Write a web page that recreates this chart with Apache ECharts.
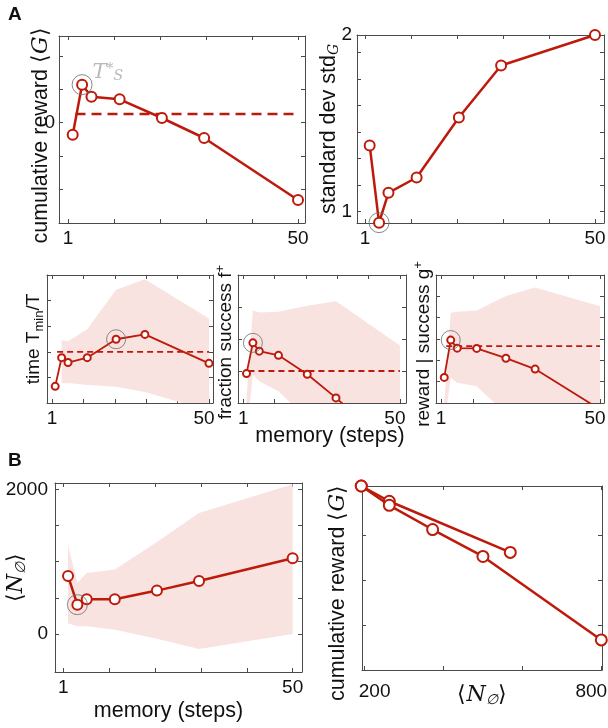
<!DOCTYPE html>
<html>
<head>
<meta charset="utf-8">
<script src="https://cdn.jsdelivr.net/npm/echarts@6/dist/echarts.min.js"></script>
<style>
  html, body { margin: 0; padding: 0; background: #fff; }
  #main { width: 608px; height: 728px; }
</style>
</head>
<body>
<div id="main"></div>
<script>
// ---- data ----
var memory = [2, 4, 6, 12, 21, 30, 50];
var memTicks = [1, 10.8, 20.6, 30.4, 40.2, 50];
var memLabels = [1, 50];

// A, top left: cumulative reward <G>
var rewardMean = [-0.36, 1.14, 0.78, 0.70, 0.14, -0.46, -2.32];
var rewardBase = 0.26;
var rewardTicks = [-2, -1, 0, 1, 2];
var rewardLabels = [0];

// A, top right: standard deviation of G
var stdG = [1.374, 0.936, 1.105, 1.192, 1.532, 1.827, 2.0];
var stdTicks = [1, 1.15, 1.3, 1.45, 1.6, 1.75, 1.9, 2];
var stdLabels = [1, 2];

// A, bottom: time, fraction success, reward | success
var timeMean = [0.65, 1.77, 1.58, 1.77, 2.49, 2.68, 1.55];
var timeLo = [null, 0.77, 0.78, 0.70, 0.63, 0.43, -0.3];
var timeHi = [null, 2.45, 2.41, 2.88, 4.42, 4.83, 3.3];
var timeBase = 2.0;
var timeTicks = [1, 2, 3, 4];

var fracMean = [0.92, 1.88, 1.62, 1.49, 0.90, 0.16, -1.6];
var fracLo = [-1.0, 0.88, 0.68, 0.37, -0.5, -1.0, -1.5];
var fracHi = [0.1, 2.9, 2.83, 2.85, 3.04, 3.18, 1.8];
var fracBase = 1.0;
var fracTicks = [1, 2, 3];

var gainMean = [1.2, 2.95, 2.57, 2.56, 2.10, 1.59, -0.3];
var gainLo = [-1.0, 1.18, 0.95, 0.79, -0.5, -1.0, -1.5];
var gainHi = [0.0, 4.23, 4.28, 4.34, 5.01, 5.41, 4.54];
var gainBase = 2.67;
var gainTicks = [1, 2, 3, 4, 5];

// B, left: <N>
var nMean = [802, 406, 480, 480, 600, 733, 1046];
var nLo = [150, 106, 106, 60, -64, -207, 0];
var nHi = [1226, 710, 843, 890, 1272, 1672, 2069];
var nTicks = [0, 500, 1000, 1500, 2000];
var nLabels = [0, 2000];

// B, right: <G> against <N>
var curveA_N = [191.6, 262.6, 569.3];
var curveA_G = [4.10, 3.76, 2.62];
var curveB_N = [191.6, 262.6, 372.4, 500, 800];
var curveB_G = [4.10, 3.67, 3.13, 2.53, 0.67];
var nAxisTicks = [200, 400, 600, 800];
var nAxisLabels = [200, 800];
var gTicks = [1, 2, 3];

// index of the optimal memory T*_S (grey circle) per panel
var optReward = 1, optStd = 1, optTime = 4, optFrac = 1, optGain = 1, optN = 1;

// ---- style ----
var RED = '#bd1a0b', BAND = '#f8e3e1', GRAY = '#6c6c6c', AX = '#4a4a4a';
var FONT = 'Liberation Sans';
var TICKFS = 19;

var chart = echarts.init(document.getElementById('main'));

var grids = [
  {left: 59, top: 36, width: 246, height: 187},   // 0 A reward
  {left: 357, top: 35, width: 247, height: 188},  // 1 A std
  {left: 47, top: 275, width: 166, height: 128},  // 2 A time
  {left: 238, top: 275, width: 168, height: 128}, // 3 A frac
  {left: 436, top: 275, width: 168, height: 128}, // 4 A gain
  {left: 55, top: 483, width: 247, height: 189},  // 5 B N
  {left: 362, top: 486, width: 240, height: 184}  // 6 B G vs N
];
grids.forEach(function (g) { g.outerBoundsMode = 'none'; g.containLabel = false; });

var xAxes = [], yAxes = [];

function tickCfg(ticks) {
  return {inside: true, length: 4, customValues: ticks, lineStyle: {color: AX, width: 1}};
}

function plain(v) { return String(v); }

function addX(gi, min, max, ticks, labels, lab, name) {
  var bottom = {
    type: 'value', gridIndex: gi, min: min, max: max, position: 'bottom',
    splitLine: {show: false},
    axisLine: {onZero: false, lineStyle: {color: AX, width: 1}},
    axisTick: tickCfg(ticks),
    axisLabel: Object.assign({customValues: labels, formatter: plain, color: '#111', fontSize: TICKFS, fontFamily: FONT, margin: 6}, lab || {})
  };
  if (name) Object.assign(bottom, name);
  xAxes.push(bottom);
  xAxes.push({
    type: 'value', gridIndex: gi, min: min, max: max, position: 'top',
    splitLine: {show: false},
    axisLine: {onZero: false, lineStyle: {color: AX, width: 1}},
    axisTick: tickCfg(ticks),
    axisLabel: {show: false}
  });
}

function addY(gi, min, max, ticks, labels, name, margin) {
  var left = {
    type: 'value', gridIndex: gi, min: min, max: max, position: 'left',
    splitLine: {show: false},
    axisLine: {onZero: false, lineStyle: {color: AX, width: 1}},
    axisTick: tickCfg(ticks),
    axisLabel: {show: labels.length > 0, customValues: labels, formatter: plain, color: '#111', fontSize: TICKFS, fontFamily: FONT, margin: margin || 5}
  };
  Object.assign(left, name);
  yAxes.push(left);
  yAxes.push({
    type: 'value', gridIndex: gi, min: min, max: max, position: 'right',
    splitLine: {show: false},
    axisLine: {onZero: false, lineStyle: {color: AX, width: 1}},
    axisTick: tickCfg(ticks),
    axisLabel: {show: false}
  });
}

var RICH = {
  n: {fontSize: 21.5, fontFamily: FONT, color: '#111'},
  s: {fontSize: 19, fontFamily: FONT, color: '#111'},
  br: {fontSize: 22, fontFamily: 'DejaVu Sans', fontWeight: 'lighter', color: '#111'},
  g: {fontSize: 22, fontFamily: 'DejaVu Serif', fontStyle: 'italic', color: '#111'},
  sub: {fontSize: 13, fontFamily: FONT, color: '#111', verticalAlign: 'bottom', lineHeight: 13},
  subi: {fontSize: 14, fontFamily: 'DejaVu Serif', fontStyle: 'italic', color: '#111', verticalAlign: 'bottom', lineHeight: 14},
  sup: {fontSize: 13, fontFamily: FONT, color: '#111', verticalAlign: 'top', lineHeight: 13}
};

function yName(text, gap, extra) {
  return {
    name: text, nameLocation: 'middle', nameRotate: 90, nameGap: gap, nameMoveOverlap: false,
    nameTextStyle: Object.assign({rich: RICH, lineHeight: 24}, extra || {})
  };
}
function xName(text, gap, extra) {
  return {
    name: text, nameLocation: 'middle', nameGap: gap, nameMoveOverlap: false,
    nameTextStyle: Object.assign({rich: RICH, lineHeight: 24}, extra || {})
  };
}

// end labels that sit slightly inside their ticks in the figure
function edgeLabels(first, pl, pr) {
  return {
    formatter: function (v) { return v === first ? '{l|' + v + '}' : '{r|' + v + '}'; },
    rich: {
      l: {fontSize: TICKFS, fontFamily: FONT, color: '#111', padding: [0, 0, 0, pl]},
      r: {fontSize: TICKFS, fontFamily: FONT, color: '#111', padding: [0, pr, 0, 0]}
    }
  };
}
var smallMemLab = edgeLabels(memLabels[0], 0, 10);
var nLab = Object.assign(edgeLabels(nAxisLabels[0], 20, 20), {margin: 12});

// axes
addX(0, -0.92, 51.49, memTicks, memLabels);
addY(0, -3.01, 2.60, rewardTicks, rewardLabels, yName('{n|cumulative reward }{br|⟨}{g|G}{br|⟩}', 6, {padding: [0, 12, 0, 0]}), 4);
addX(1, -0.70, 51.92, memTicks, memLabels);
addY(1, 0.934, 2.0, stdTicks, stdLabels, yName('{n|standard dev std}{subi|G}', 16));
addX(2, -0.56, 51.25, memTicks, memLabels, smallMemLab);
addY(2, 0, 5, timeTicks, [], yName('{s|time T}{sub|min}{s|/T}', 1));
addX(3, -0.66, 51.9, memTicks, memLabels, smallMemLab, xName('{n|memory (steps)}', 21, {padding: [0, 0, 0, 16]}));
addY(3, 0, 4, fracTicks, [], yName('{s|fraction success f}{sup|+}', 0, {padding: [0, 6, 0, 0]}));
addX(4, -0.54, 51.23, memTicks, memLabels, smallMemLab);
addY(4, 0, 6, gainTicks, [], yName('{s|reward | success g}{sup|+}', 0, {padding: [0, 10, 0, 0]}));
addX(5, -0.78, 52, memTicks, memLabels, null, xName('{n|memory (steps)}', 27, {padding: [0, 20, 0, 0]}));
addY(5, -525, 2087, nTicks, nLabels, yName('{br|⟨}{g|N}{subi|∅}{br|⟩}', 27), 7);
addX(6, 193.4, 801.8, nAxisTicks, nAxisLabels, nLab, xName('{br|⟨}{g|N}{subi|∅}{br|⟩}', 13));
addY(6, 0, 4.1, gTicks, [], yName('{n|cumulative reward }{br|⟨}{g|G}{br|⟩}', 12, {padding: [0, 30, 0, 0]}));

var series = [];

function pairs(xs, ys) {
  var out = [];
  for (var i = 0; i < xs.length; i++) {
    if (ys[i] !== null) out.push([xs[i], ys[i]]);
  }
  return out;
}

// shaded spread: one polygon per panel, upper edge forward, lower edge back
function addBand(gi, lo, hi) {
  var rows = [];
  for (var i = 0; i < memory.length; i++) {
    if (lo[i] === null || hi[i] === null) continue;
    rows.push([memory[i], lo[i], hi[i]]);
  }
  series.push({
    type: 'custom', xAxisIndex: 2 * gi, yAxisIndex: 2 * gi,
    data: rows, silent: true, z: 1,
    encode: {x: 0, y: [1, 2]},
    renderItem: function (params, api) {
      if (params.dataIndex !== 0) return null;
      var pts = [], k;
      for (k = 0; k < rows.length; k++) pts.push(api.coord([rows[k][0], rows[k][2]]));
      for (k = rows.length - 1; k >= 0; k--) pts.push(api.coord([rows[k][0], rows[k][1]]));
      var cs = params.coordSys;
      return {
        type: 'polygon', shape: {points: pts}, style: {fill: BAND},
        clipPath: {type: 'rect', shape: {x: cs.x, y: cs.y, width: cs.width, height: cs.height}}
      };
    }
  });
}

function addBase(gi, base, w, dash) {
  series.push({
    type: 'line', xAxisIndex: 2 * gi, yAxisIndex: 2 * gi,
    data: [[memory[0] + 0.6, base], [memory[memory.length - 1], base]],
    symbol: 'none', lineStyle: {color: RED, width: w, type: dash}, silent: true, z: 2
  });
}

function addMean(gi, xs, ys, size, w, clip) {
  series.push({
    type: 'line', xAxisIndex: 2 * gi, yAxisIndex: 2 * gi,
    data: pairs(xs, ys), symbol: 'emptyCircle', symbolSize: size,
    lineStyle: {color: RED, width: w}, itemStyle: {color: RED, borderColor: RED, borderWidth: w},
    clip: clip, silent: true, z: 3
  });
}

function addRing(gi, x, y, size, label) {
  var s = {
    type: 'scatter', xAxisIndex: 2 * gi, yAxisIndex: 2 * gi,
    data: [[x, y]], symbolSize: size,
    itemStyle: {color: 'rgba(0,0,0,0)', borderColor: GRAY, borderWidth: 1},
    silent: true, z: 4
  };
  if (label) s.label = label;
  series.push(s);
}

// A top left
addBase(0, rewardBase, 2.5, [10, 6]);
addMean(0, memory, rewardMean, 10, 2.5, false);
addRing(0, memory[optReward], rewardMean[optReward], 20, {
  show: true, position: 'right', distance: 0, offset: [0, -12],
  formatter: '{t|T}{a|*}{b|S}',
  rich: {
    t: {fontSize: 21, fontFamily: 'DejaVu Serif', fontStyle: 'italic', color: '#a8a8a8'},
    a: {fontSize: 14, fontFamily: 'DejaVu Serif', color: '#a8a8a8', verticalAlign: 'top', lineHeight: 14},
    b: {fontSize: 14, fontFamily: 'DejaVu Serif', fontStyle: 'italic', color: '#a8a8a8', verticalAlign: 'bottom', lineHeight: 14}
  }
});

// A top right
addMean(1, memory, stdG, 10, 2.5, false);
addRing(1, memory[optStd], stdG[optStd], 20);

// A bottom
addBand(2, timeLo, timeHi);
addBase(2, timeBase, 1.8, [6, 4]);
addMean(2, memory, timeMean, 7, 1.8, true);
addRing(2, memory[optTime], timeMean[optTime], 19);

addBand(3, fracLo, fracHi);
addBase(3, fracBase, 1.8, [6, 4]);
addMean(3, memory, fracMean, 7, 1.8, true);
addRing(3, memory[optFrac], fracMean[optFrac], 19);

addBand(4, gainLo, gainHi);
addBase(4, gainBase, 1.8, [6, 4]);
addMean(4, memory, gainMean, 7, 1.8, true);
addRing(4, memory[optGain], gainMean[optGain], 19);

// B left
addBand(5, nLo, nHi);
addMean(5, memory, nMean, 10, 2.5, true);
addRing(5, memory[optN], nMean[optN], 20);

// B right
addMean(6, curveA_N, curveA_G, 11, 2.5, false);
addMean(6, curveB_N, curveB_G, 11, 2.5, false);

chart.setOption({
  animation: false,
  backgroundColor: '#fff',
  textStyle: {fontFamily: FONT},
  grid: grids,
  xAxis: xAxes,
  yAxis: yAxes,
  series: series,
  graphic: [
    {type: 'text', left: 8, top: 5, style: {text: 'A', fontSize: 19, fontWeight: 'bold', fontFamily: FONT, fill: '#111'}},
    {type: 'text', left: 8, top: 451, style: {text: 'B', fontSize: 19, fontWeight: 'bold', fontFamily: FONT, fill: '#111'}}
  ]
});
</script>
</body>
</html>
